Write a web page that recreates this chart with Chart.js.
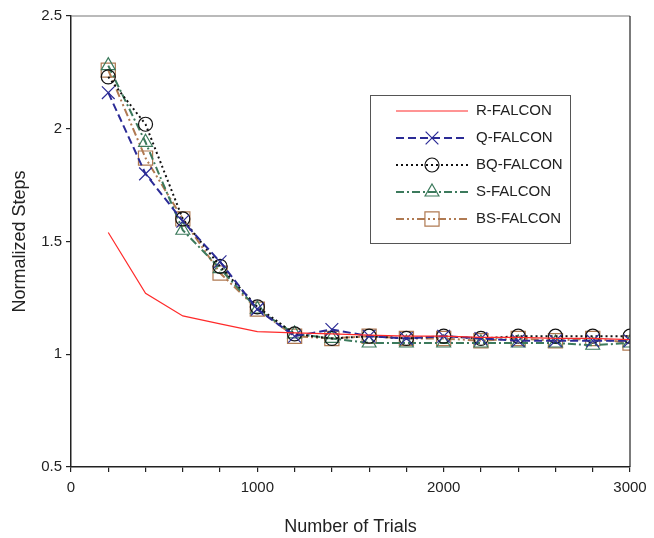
<!DOCTYPE html>
<html><head><meta charset="utf-8">
<script src="https://cdn.jsdelivr.net/npm/chart.js@4.4.1/dist/chart.umd.min.js"></script>
<style>html,body{margin:0;padding:0;background:#fff}</style>
</head><body>
<canvas id="c" width="654" height="538"></canvas>
<script>
// values
const trials = [200,400,600,800,1000,1200,1400,1600,1800,2000,2200,2400,2600,2800,3000];
const rFalcon  = [1.54,1.27,1.17,1.135,1.10,1.095,1.09,1.085,1.08,1.08,1.075,1.075,1.07,1.07,1.065];
const qFalcon  = [2.16,1.80,1.59,1.41,1.20,1.08,1.11,1.08,1.07,1.08,1.07,1.06,1.06,1.06,1.06];
const bqFalcon = [2.23,2.02,1.60,1.39,1.21,1.09,1.07,1.08,1.07,1.08,1.07,1.08,1.08,1.08,1.08];
const sFalcon  = [2.28,1.94,1.55,1.38,1.20,1.09,1.07,1.05,1.05,1.05,1.05,1.05,1.05,1.04,1.05];
const bsFalcon = [2.26,1.87,1.60,1.36,1.20,1.08,1.07,1.08,1.07,1.07,1.06,1.07,1.06,1.07,1.05];
const seriesNames = ['R-FALCON','Q-FALCON','BQ-FALCON','S-FALCON','BS-FALCON'];
const yTicks = [0.5,1,1.5,2,2.5];

const FONT = '"Liberation Sans", Arial, sans-serif';
const pts = arr => arr.map((v,i)=>({x:trials[i], y:v}));

function ds(label, data, color, dash, style, r, width){
  return {label, data:pts(data), borderColor:color, borderDash:dash, borderWidth:width,
    pointStyle:style, pointRadius:r, pointBorderColor:color, pointBackgroundColor:'rgba(0,0,0,0)',
    pointBorderWidth:1.2, fill:false, tension:0};
}

const datasets = [
  ds(seriesNames[0], rFalcon, '#ff2a2a', [], false, 0, 1.2),
  ds(seriesNames[1], qFalcon, '#2b2b96', [8,4], 'crossRot', 9, 2),
  ds(seriesNames[2], bqFalcon, '#111', [2,3], 'circle', 7, 2),
  ds(seriesNames[3], sFalcon, '#3c7a5c', [8,3,2,3], 'triangle', 8, 2),
  ds(seriesNames[4], bsFalcon, '#b07a52', [8,3,2,3,2,3], 'rect', 10, 2)
];

// legend box drawn inside the plot
const boxLegend = {
  id:'boxLegend',
  afterDraw(chart){
    const ctx = chart.ctx;
    ctx.save();
    ctx.strokeStyle = '#555'; ctx.lineWidth = 1; ctx.setLineDash([]);
    ctx.strokeRect(370.5, 95.5, 200, 148);
    chart.data.datasets.forEach((d,i)=>{
      const y = 111 + 27*i;
      ctx.save();
      ctx.strokeStyle = d.borderColor; ctx.lineWidth = d.borderWidth;
      ctx.setLineDash(d.borderDash);
      ctx.beginPath(); ctx.moveTo(396,y); ctx.lineTo(468,y); ctx.stroke();
      ctx.restore();
      if (d.pointStyle) {
        ctx.save();
        ctx.strokeStyle = d.borderColor; ctx.fillStyle = 'rgba(0,0,0,0)'; ctx.lineWidth = 1.2;
        Chart.helpers.drawPoint(ctx, {pointStyle:d.pointStyle, radius:d.pointRadius, rotation:0, borderWidth:1.2}, 432, y);
        ctx.restore();
      }
      ctx.fillStyle = '#222'; ctx.font = '15px ' + FONT; ctx.textBaseline = 'middle';
      ctx.fillText(d.label, 476, y);
    });
    // top and right frame
    const a = chart.chartArea;
    ctx.lineWidth = 1.2;
    ctx.strokeStyle = '#777';
    ctx.beginPath(); ctx.moveTo(a.left, a.top); ctx.lineTo(a.right, a.top); ctx.stroke();
    ctx.strokeStyle = '#222';
    ctx.beginPath(); ctx.moveTo(a.right, a.top); ctx.lineTo(a.right, a.bottom); ctx.stroke();
    ctx.restore();
  }
};

new Chart(document.getElementById('c'), {
  type:'line',
  data:{datasets},
  options:{
    responsive:false, animation:false, devicePixelRatio:1,
    layout:{padding:{top:16, right:24, left:0, bottom:0}},
    plugins:{legend:{display:false}, tooltip:{enabled:false}},
    scales:{
      x:{type:'linear', min:0, max:3000,
        afterFit:s=>{s.height = 71;},
        ticks:{stepSize:200, autoSkip:false, maxRotation:0, color:'#222', padding:7,
          font:{family:FONT, size:15},
          callback:v=> v%1000===0 ? String(v) : ''},
        grid:{drawOnChartArea:false, tickLength:5, color:'#222', lineWidth:1.2},
        border:{color:'#222', width:1.5},
        title:{display:true, text:'Number of Trials', color:'#222', font:{family:FONT, size:18}, padding:{top:0,bottom:0}}
      },
      y:{min:0.5, max:2.5,
        afterFit:s=>{s.width = 71;},
        afterBuildTicks:s=>{s.ticks = yTicks.map(v=>({value:v}));},
        ticks:{color:'#222', padding:4, font:{family:FONT, size:15}, callback:v=>String(v)},
        grid:{drawOnChartArea:false, tickLength:5, color:'#222', lineWidth:1.2},
        border:{color:'#222', width:1.5},
        title:{display:true, text:'Normalized Steps', color:'#222', font:{family:FONT, size:18}, padding:{top:9,bottom:0}}
      }
    }
  },
  plugins:[boxLegend]
});
</script>
</body></html>
